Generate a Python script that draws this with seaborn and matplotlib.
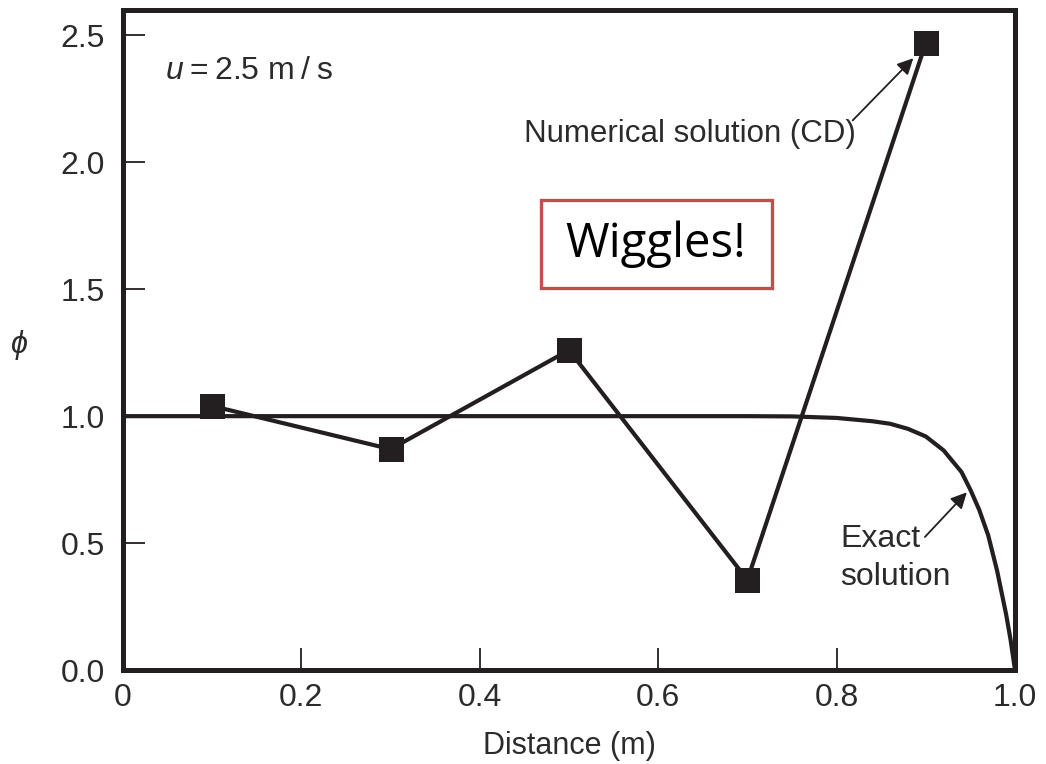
import matplotlib
matplotlib.use("Agg")
import matplotlib.pyplot as plt
import seaborn as sns
import pandas as pd
from matplotlib.patches import Rectangle

# ---- data ----
num_x = [0.1, 0.3, 0.5, 0.7, 0.9]
num_phi = [1.04, 0.87, 1.26, 0.355, 2.47]

exact_x = [0.0, 0.1, 0.2, 0.3, 0.4, 0.5, 0.6, 0.7, 0.75, 0.8, 0.84, 0.86, 0.88,
           0.90, 0.92, 0.94, 0.95, 0.96, 0.97, 0.98, 0.99, 0.995, 1.0]
exact_phi = [1.0, 1.0, 1.0, 1.0, 1.0, 1.0, 1.0, 1.0, 0.999, 0.993, 0.98, 0.97, 0.95,
             0.92, 0.865, 0.78, 0.71, 0.63, 0.53, 0.39, 0.22, 0.12, 0.0]

x_ticks = [0, 0.2, 0.4, 0.6, 0.8, 1.0]
x_tick_labels = ["0", "0.2", "0.4", "0.6", "0.8", "1.0"]
y_ticks = [0.0, 0.5, 1.0, 1.5, 2.0, 2.5]
y_tick_labels = ["0.0", "0.5", "1.0", "1.5", "2.0", "2.5"]

sns.set_theme(style="white")
plt.rcParams['font.family'] = ['Liberation Sans', 'DejaVu Sans']
plt.rcParams['mathtext.fontset'] = 'custom'
plt.rcParams['mathtext.it'] = 'Liberation Sans:italic'
plt.rcParams['mathtext.rm'] = 'Liberation Sans'

INK = "#231f20"
TXT = "#2b2b2b"
FS = 23

fig = plt.figure(figsize=(10.46, 7.64), dpi=100)
ax = fig.add_axes([123/1046, 1 - 670/764, 892/1046, 660/764])

df_exact = pd.DataFrame({"x": exact_x, "phi": exact_phi})
df_num = pd.DataFrame({"x": num_x, "phi": num_phi})

sns.lineplot(data=df_exact, x="x", y="phi", ax=ax, color=INK, lw=3.0,
             sort=False, zorder=2)
sns.lineplot(data=df_num, x="x", y="phi", ax=ax, color=INK, lw=3.0,
             marker="s", markersize=18, markeredgewidth=0, markerfacecolor=INK,
             sort=False, zorder=3)

ax.set_xlim(0, 1.0)
ax.set_ylim(0, 2.6)
ax.set_xticks(x_ticks)
ax.set_xticklabels(x_tick_labels)
ax.set_yticks(y_ticks)
ax.set_yticklabels(y_tick_labels)
ax.tick_params(axis="both", direction="in", length=16, width=1.3, color=INK,
               labelsize=FS, labelcolor=TXT, bottom=True, left=True,
               top=False, right=False)
ax.tick_params(axis="x", pad=9)
ax.tick_params(axis="y", pad=13)
for s in ax.spines.values():
    s.set_visible(True)
    s.set_linewidth(3.6)
    s.set_color(INK)

ax.set_xlabel("Distance (m)", fontsize=22, color=TXT, labelpad=13)
ax.set_ylabel(r"$\phi$", fontsize=22, color=TXT, rotation=0, va="center", ha="center")
ax.yaxis.set_label_coords(-0.117, (670 - 345) / 660)

ax.text(0.047, 2.36, "$u$\u2009=\u20092.5 m\u2009/\u2009s", fontsize=FS, color=TXT,
        va="center", ha="left")

ax.text(0.636, 2.11, "Numerical solution (CD)", fontsize=22.5, color=TXT,
        ha="center", va="center")
ax.annotate("", xy=(0.886, 2.41), xytext=(0.818, 2.165),
            arrowprops=dict(arrowstyle="-|>", color=INK, lw=1.3, mutation_scale=24,
                            shrinkA=0, shrinkB=0))
ax.text(0.804, 0.44, "Exact\nsolution", fontsize=FS, color=TXT, ha="left", va="center",
        linespacing=1.35)
ax.annotate("", xy=(0.946, 0.70), xytext=(0.899, 0.524),
            arrowprops=dict(arrowstyle="-|>", color=INK, lw=1.3, mutation_scale=24,
                            shrinkA=0, shrinkB=0))

ax.add_patch(Rectangle(((541 - 123) / 892, (670 - 288) / 660), 231 / 892, 88 / 660,
                       transform=ax.transAxes, fill=False, edgecolor="#c0504d", lw=2.4,
                       zorder=4))
ax.text((656 - 123) / 892, (670 - 244) / 660, "Wiggles!", transform=ax.transAxes,
        fontsize=34, family=["Open Sans", "DejaVu Sans"], color="black",
        ha="center", va="center", zorder=5)

fig.savefig("out.png", dpi=100)
